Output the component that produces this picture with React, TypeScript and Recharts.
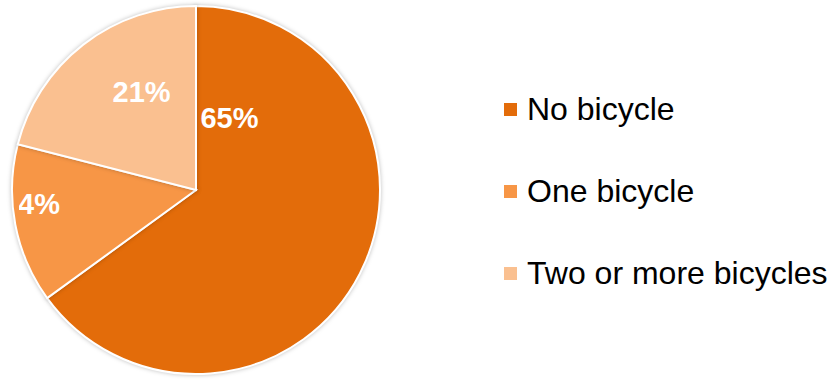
import { Cell, Legend, Pie, PieChart } from "recharts";

// ---------------------------------------------------------------------------
// Data — bicycle ownership share
// ---------------------------------------------------------------------------

const categories = ["No bicycle", "One bicycle", "Two or more bicycles"];
const shares = [65, 14, 21];
const colors = ["#E36C0A", "#F79646", "#FAC090"];

// Excel-style "best fit" label placement: angle (deg, recharts convention)
// and fraction of the outer radius.
const labelAngles = [65, 185, 119];
const labelRadii = [0.43, 0.9, 0.61];

const data = categories.map((name, i) => ({ name, value: shares[i] }));

const FONT = "'Liberation Sans', Arial, Helvetica, sans-serif";

function renderLabel(props: any) {
  const { cx, cy, outerRadius, index, value } = props;
  const a = (labelAngles[index] * Math.PI) / 180;
  const r = outerRadius * labelRadii[index];
  const x = cx + r * Math.cos(a);
  const y = cy - r * Math.sin(a);
  // the source clips labels a little inside the pie's left edge
  const clipId = `lbl-clip-${index}`;
  return (
    <g key={clipId}>
      <defs>
        <clipPath id={clipId}>
          <rect x={cx - outerRadius + 7} y={0} width={outerRadius * 2} height={cy * 2} />
        </clipPath>
      </defs>
      <text
        x={x}
        y={y}
        fill="#ffffff"
        textAnchor="middle"
        dominantBaseline="central"
        clipPath={`url(#${clipId})`}
        style={{ fontFamily: FONT, fontWeight: 700, fontSize: 29 }}
      >
        {value}%
      </text>
    </g>
  );
}

function renderLegend() {
  return (
    <div style={{ fontFamily: FONT, fontSize: 32, color: "#000" }}>
      {categories.map((c, i) => (
        <div
          key={c}
          style={{ height: 82, display: "flex", alignItems: "center" }}
        >
          <span
            style={{
              width: 13,
              height: 13,
              background: colors[i],
              marginRight: 10,
              display: "inline-block",
            }}
          />
          <span style={{ lineHeight: 1 }}>{c}</span>
        </div>
      ))}
    </div>
  );
}

export default function App() {
  return (
    <div
      style={{
        position: "absolute",
        left: 0,
        top: 0,
        width: 832,
        height: 380,
        background: "#fff",
      }}
    >
      <PieChart width={832} height={380} margin={{ top: 0, right: 0, bottom: 0, left: 0 }}>
        <Pie
          data={data}
          dataKey="value"
          nameKey="name"
          cx={196}
          cy={190}
          outerRadius={184}
          startAngle={90}
          endAngle={-270}
          stroke="#ffffff"
          strokeWidth={2}
          label={renderLabel}
          labelLine={false}
          isAnimationActive={false}
          style={{ filter: "drop-shadow(0px 0px 2px rgba(0,0,0,0.25))" }}
        >
          {data.map((d, i) => (
            <Cell key={d.name} fill={colors[i]} />
          ))}
        </Pie>
        <Legend
          content={renderLegend}
          wrapperStyle={{ position: "absolute", left: 504, top: 68, width: 328 }}
        />
      </PieChart>
    </div>
  );
}
